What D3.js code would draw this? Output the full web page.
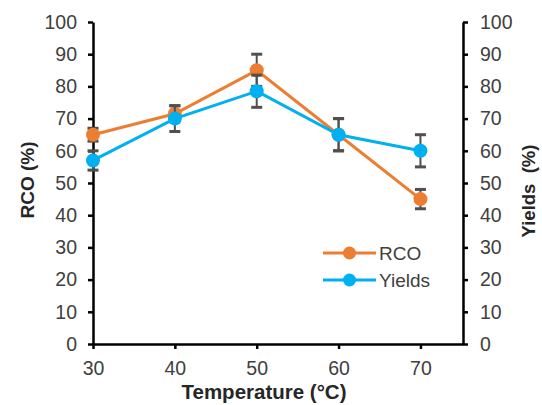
<!DOCTYPE html>
<html>
<head>
<meta charset="utf-8">
<script src="https://cdn.jsdelivr.net/npm/d3@7"></script>
<style>
  body { margin: 0; background: #fff; }
  text { font-family: "Liberation Sans", Arial, sans-serif; }
</style>
</head>
<body>
<svg></svg>
<script>
const temps = [30, 40, 50, 60, 70];
const rco = [65, 71.5, 85, 65, 45];
const rcoErr = [2, 2.5, 5, 5, 3];
const yields = [57, 70, 78.5, 65, 60];
const yieldsErr = [3, 4, 5, 5, 5];
const yTicks = [0, 10, 20, 30, 40, 50, 60, 70, 80, 90, 100];

const svg = d3.select("svg");
const svg_width = 542;
const svg_height = 405;
svg.attr("width", svg_width).attr("height", svg_height);

const plot_left = 93, plot_right = 463, plot_top = 22, plot_bottom = 344;

const x = d3.scaleLinear().domain([30, 75.2]).range([plot_left, plot_right]);
const y = d3.scaleLinear().domain([0, 100]).range([plot_bottom, plot_top]);

const orange = "#ED7D31";
const blue = "#00B0F0";
const errColor = "#505050";

// axes
const xAxis = svg.append("g")
    .attr("transform", `translate(0, ${plot_bottom})`)
    .call(d3.axisBottom(x).tickValues(temps).tickSize(5).tickSizeOuter(0).tickPadding(12));
const yLeft = svg.append("g")
    .attr("transform", `translate(${plot_left}, 0)`)
    .call(d3.axisLeft(y).tickValues(yTicks).tickSize(5).tickSizeOuter(0).tickPadding(11));
const yRight = svg.append("g")
    .attr("transform", `translate(${plot_right}, 0)`)
    .call(d3.axisRight(y).tickValues(yTicks).tickSize(5).tickSizeOuter(0).tickPadding(12));

[xAxis, yLeft, yRight].forEach(g => {
    g.select(".domain").attr("stroke", "#000").attr("stroke-width", 2.5);
    g.selectAll(".tick line").attr("stroke", "#000").attr("stroke-width", 2.5);
    g.selectAll(".tick text")
        .attr("fill", "#404040")
        .style("font-size", "19.5px");
});

// axis titles
svg.append("text")
    .attr("transform", `translate(34, 180) rotate(-90)`)
    .attr("text-anchor", "middle")
    .attr("font-weight", "bold")
    .attr("fill", "#262626")
    .style("font-size", "19px")
    .text("RCO (%)");

svg.append("text")
    .attr("transform", `translate(535, 191) rotate(-90)`)
    .attr("text-anchor", "middle")
    .attr("font-weight", "bold")
    .attr("fill", "#262626")
    .style("font-size", "18.5px")
    .style("white-space", "pre")
    .text("Yields  (%)");

svg.append("text")
    .attr("x", 264)
    .attr("y", 399)
    .attr("text-anchor", "middle")
    .attr("font-weight", "bold")
    .attr("fill", "#262626")
    .style("font-size", "20.5px")
    .text("Temperature (°C)");

const line = d3.line().x(d => x(d[0])).y(d => y(d[1]));

function drawSeries(vals, errs, color){
    const pts = temps.map((t, i) => [t, vals[i], errs[i]]);
    const g = svg.append("g");
    g.append("path")
        .datum(pts)
        .attr("d", line)
        .attr("fill", "none")
        .attr("stroke", color)
        .attr("stroke-width", 3);
    const eb = g.selectAll(".err").data(pts).enter().append("g")
        .attr("stroke", errColor)
        .attr("stroke-width", 2);
    eb.append("line")
        .attr("x1", d => x(d[0])).attr("x2", d => x(d[0]))
        .attr("y1", d => y(d[1] - d[2])).attr("y2", d => y(d[1] + d[2]));
    eb.append("line")
        .attr("x1", d => x(d[0]) - 5.5).attr("x2", d => x(d[0]) + 5.5)
        .attr("y1", d => y(d[1] + d[2])).attr("y2", d => y(d[1] + d[2]))
        .attr("stroke-width", 3);
    eb.append("line")
        .attr("x1", d => x(d[0]) - 5.5).attr("x2", d => x(d[0]) + 5.5)
        .attr("y1", d => y(d[1] - d[2])).attr("y2", d => y(d[1] - d[2]))
        .attr("stroke-width", 3);
    g.selectAll("circle").data(pts).enter().append("circle")
        .attr("cx", d => x(d[0]))
        .attr("cy", d => y(d[1]))
        .attr("r", 7)
        .attr("fill", color);
}

drawSeries(rco, rcoErr, orange);
drawSeries(yields, yieldsErr, blue);

// legend
const legend = [["RCO", orange], ["Yields", blue]];
legend.forEach((d, i) => {
    const ly = 253 + i * 27;
    svg.append("line")
        .attr("x1", 323).attr("x2", 376)
        .attr("y1", ly).attr("y2", ly)
        .attr("stroke", d[1]).attr("stroke-width", 3);
    svg.append("circle")
        .attr("cx", 349.5).attr("cy", ly).attr("r", 6.5)
        .attr("fill", d[1]);
    svg.append("text")
        .attr("x", 379).attr("y", ly + 7)
        .attr("fill", "#404040")
        .style("font-size", "19px")
        .text(d[0]);
});
</script>
</body>
</html>
